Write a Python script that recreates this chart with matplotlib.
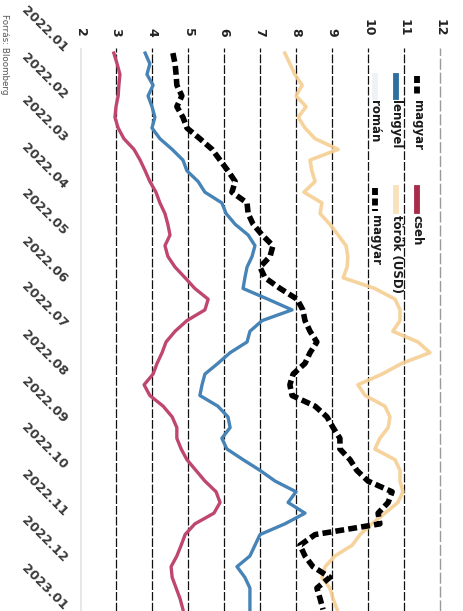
import matplotlib
matplotlib.use('Agg')
import matplotlib.pyplot as plt
import matplotlib.dates as mdates
from matplotlib.lines import Line2D
import pandas as pd

# ---------------- data (weekly readings) ----------------
dates = pd.date_range('2022-01-03', periods=53, freq='7D')

magyar = [4.58, 4.64, 4.67, 4.69, 4.83, 4.69, 4.86, 4.97, 5.33, 5.67,
          5.89, 6.11, 6.31, 6.22, 6.64, 6.67, 6.81, 7.06, 7.36, 7.28,
          7.00, 7.14, 7.56, 8.03, 8.19, 8.25, 8.39, 8.58, 8.39, 8.25,
          7.92, 7.83, 7.89, 8.53, 8.86, 9.03, 9.22, 9.22, 9.50, 9.69,
          10.00, 10.67, 10.56, 10.28, 10.33, 8.53, 8.11, 8.25, 8.47, 8.94,
          8.58, 8.67, 8.75]

cseh = [2.94, 3.03, 3.11, 3.08, 3.06, 3.00, 2.97, 3.06, 3.22, 3.50,
        3.67, 3.81, 3.94, 4.11, 4.22, 4.36, 4.44, 4.50, 4.36, 4.44,
        4.64, 4.92, 5.19, 5.56, 5.47, 4.97, 4.64, 4.39, 4.28, 4.14,
        4.03, 3.78, 3.94, 4.31, 4.56, 4.69, 4.69, 4.81, 4.97, 5.22,
        5.47, 5.78, 5.89, 5.72, 5.19, 4.92, 4.81, 4.69, 4.53, 4.56,
        4.67, 4.78, 4.86]

lengyel = [3.81, 3.94, 3.86, 4.03, 3.89, 4.00, 4.08, 4.00, 4.22, 4.56,
           4.86, 4.97, 5.28, 5.47, 5.94, 6.06, 6.31, 6.67, 6.86, 6.78,
           6.64, 6.58, 6.53, 7.22, 7.89, 7.06, 6.72, 6.64, 6.17, 5.83,
           5.47, 5.39, 5.33, 5.83, 6.11, 6.17, 5.94, 6.08, 6.53, 7.00,
           7.42, 8.00, 7.78, 8.25, 7.69, 7.00, 6.86, 6.72, 6.36, 6.58,
           6.72, 6.72, 6.72]

torok = [7.69, 7.83, 7.97, 8.17, 8.00, 8.28, 8.06, 8.25, 8.53, 9.17,
         8.39, 8.44, 8.53, 8.22, 8.72, 8.67, 8.94, 9.17, 9.39, 9.44,
         9.42, 9.31, 10.19, 10.75, 10.89, 10.89, 10.69, 11.39, 11.72, 10.94,
         10.39, 9.72, 9.92, 10.47, 10.61, 10.56, 10.33, 10.19, 10.75, 10.89,
         10.89, 10.97, 10.83, 10.47, 10.11, 9.78, 9.56, 9.08, 8.81, 8.72,
         8.94, 9.03, 9.14]

value_ticks = [2, 3, 4, 5, 6, 7, 8, 9, 10, 11, 12]
month_ticks = pd.date_range('2022-01-01', '2023-01-01', freq='MS')
month_labels = [d.strftime('%Y.%m') for d in month_ticks]

legend_col1 = ['magyar', 'lengyel', 'román']
legend_col2 = ['cseh', 'török (USD)', 'magyar']

# ---------------- figure ----------------
W, H = 463, 611
fig = plt.figure(figsize=(W / 100, H / 100), dpi=100)
fig.patch.set_facecolor('white')

ax_left, ax_right, ax_top = 80, 443.6, 48
ax = fig.add_axes([ax_left / W, 0, (ax_right - ax_left) / W, (H - ax_top) / H])
ax.set_facecolor('white')
ax.set_xlim(2, 12.1)
ax.set_ylim(mdates.date2num(pd.Timestamp('2023-01-03')),
            mdates.date2num(pd.Timestamp('2021-12-30 16:00')))
for s in ax.spines.values():
    s.set_visible(False)

# vertical grid
for v in value_ticks:
    if v == 2:
        ax.axvline(v, color='#e6e6e6', lw=2.0, zorder=0)
    elif v == 12:
        ax.axvline(v, color='#9a9a9a', lw=1.0, ls=(0, (8, 2)), zorder=0)
    else:
        ax.axvline(v, color='#111111', lw=0.9, ls=(0, (7, 1.6)), zorder=0)

# series
ax.plot(torok, dates, color='#f6cf93', lw=2.6, alpha=0.9, zorder=2,
        solid_joinstyle='round')
ax.plot(cseh, dates, color='#bf4670', lw=2.4, zorder=3, solid_joinstyle='round')
ax.plot(lengyel, dates, color='#4683b6', lw=2.4, zorder=3, solid_joinstyle='round')
ax.plot(magyar, dates, color='black', lw=4.0, ls=(0, (1.6, 0.75)), zorder=4,
        dash_capstyle='butt', dash_joinstyle='round')

# ticks
ax.xaxis.tick_top()
ax.set_xticks(value_ticks)
ax.set_xticklabels([str(v) for v in value_ticks], rotation=-90,
                   fontsize=9, fontweight='bold', color='#222222')
ax.tick_params(axis='x', length=0, pad=8)

ax.set_yticks(mdates.date2num(month_ticks))
ax.set_yticklabels(month_labels, fontsize=9.3, fontweight='bold', color='#3a3a3a')
for lab in ax.get_yticklabels():
    lab.set_rotation(-45)
    lab.set_rotation_mode('anchor')
    lab.set_ha('right')
    lab.set_va('center')
ax.tick_params(axis='y', length=0, pad=11)

# ---------------- legend (rotated, manual) ----------------
def fx(px):
    return px / W

def fy(py):
    return 1 - py / H

rows_x = [417, 396, 375]
col1_handles = [
    dict(color='black', lw=4.2, ls=(0, (1.2, 0.6))),
    dict(color='#2f6f9f', lw=4.2, ls='-'),
    dict(color='#eef2f6', lw=4.2, ls='-'),
]
col2_handles = [
    dict(color='#a82c48', lw=4.2, ls='-'),
    dict(color='#f8e2bd', lw=4.2, ls='-'),
    dict(color='black', lw=4.2, ls=(0, (1.2, 0.6))),
]
for x, lab, hd in zip(rows_x, legend_col1, col1_handles):
    fig.add_artist(Line2D([fx(x), fx(x)], [fy(76), fy(97)], **hd))
    fig.text(fx(x), fy(100), lab, rotation=-90, rotation_mode='anchor',
             ha='left', va='center', fontsize=8.5, fontweight='bold', color='#1a1a1a')
for x, lab, hd in zip(rows_x, legend_col2, col2_handles):
    fig.add_artist(Line2D([fx(x), fx(x)], [fy(188), fy(211)], **hd))
    fig.text(fx(x), fy(215), lab, rotation=-90, rotation_mode='anchor',
             ha='left', va='center', fontsize=8.5, fontweight='bold', color='#1a1a1a')

# source
fig.text(fx(5), fy(14), 'Forrás: Bloomberg', rotation=-90, rotation_mode='anchor',
         ha='left', va='center', fontsize=6.3, color='#555555')

fig.savefig('out.png', dpi=100, facecolor='white')
